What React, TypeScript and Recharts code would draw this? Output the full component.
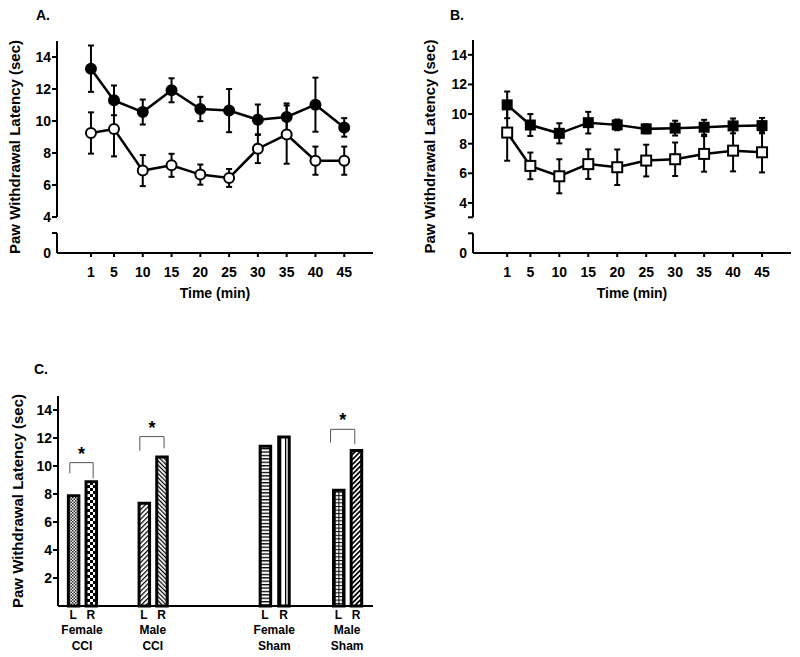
import {
  Bar,
  BarChart,
  Cell,
  ErrorBar,
  Line,
  LineChart,
  ReferenceLine,
  XAxis,
  YAxis,
} from "recharts";

const FONT = "'Liberation Sans', Arial, sans-serif";
const INK = "#000";

// panels A and B: time course
const TIMES = [1, 5, 10, 15, 20, 25, 30, 35, 40, 45];
const A_FILLED = [13.27, 11.29, 10.56, 11.92, 10.75, 10.65, 10.08, 10.25, 11.02, 9.6];
const A_FILLED_ERR = [1.45, 0.93, 0.78, 0.75, 0.76, 1.35, 0.95, 0.85, 1.69, 0.58];
const A_OPEN = [9.25, 9.5, 6.9, 7.23, 6.65, 6.44, 8.27, 9.15, 7.52, 7.52];
const A_OPEN_ERR = [1.29, 1.71, 0.97, 0.72, 0.63, 0.56, 0.9, 1.82, 0.88, 0.88];
const B_FILLED = [10.62, 9.26, 8.7, 9.42, 9.27, 9.0, 9.05, 9.11, 9.2, 9.22];
const B_FILLED_ERR = [0.9, 0.74, 0.68, 0.73, 0.36, 0.3, 0.5, 0.5, 0.5, 0.52];
const B_OPEN = [8.75, 6.5, 5.8, 6.62, 6.41, 6.86, 6.95, 7.31, 7.53, 7.42];
const B_OPEN_ERR = [1.9, 0.9, 1.15, 1.0, 1.2, 1.07, 1.13, 1.2, 1.4, 1.36];
const TIME_TICKS = [1, 5, 10, 15, 20, 25, 30, 35, 40, 45];
const Y_TICKS = [4, 6, 8, 10, 12, 14];

// panel C: left / right paw
const BAR_POS = [0, 1, 4, 5, 10.85, 11.9, 15, 16];
const BAR_SIDES = ["L", "R", "L", "R", "L", "R", "L", "R"];
const BAR_VALUES = [7.88, 8.88, 7.34, 10.65, 11.41, 12.07, 8.27, 11.1];
const BAR_PATTERNS = ["fineCheck", "check", "diagA", "diagB", "horiz", "vert", "grid", "diagC"];
const GROUP_POS = [0.5, 4.5, 11.375, 15.5];
const GROUP_LINES = [
  ["Female", "CCI"],
  ["Male", "CCI"],
  ["Female", "Sham"],
  ["Male", "Sham"],
];
// significance brackets: [x1, x2, top, left leg end, right leg end]
const BRACKETS = [
  [-0.19, 1.13, 10.24, 9.48, 9.12],
  [3.77, 5.14, 12.1, 11.1, 11.26],
  [14.56, 15.93, 12.62, 11.67, 11.57],
];

const timeA = TIMES.map((t, i) => ({
  t,
  filled: A_FILLED[i],
  filledErr: A_FILLED_ERR[i],
  open: A_OPEN[i],
  openErr: A_OPEN_ERR[i],
}));
const timeB = TIMES.map((t, i) => ({
  t,
  filled: B_FILLED[i],
  filledErr: B_FILLED_ERR[i],
  open: B_OPEN[i],
  openErr: B_OPEN_ERR[i],
}));
const bars = BAR_POS.map((x, i) => ({ x, side: BAR_SIDES[i], v: BAR_VALUES[i] }));

const X_DOMAIN = [-4.9, 50];

function yLabel(cx: number) {
  return (props: any) => {
    const vb = props.viewBox || {};
    const cy = vb.y + vb.height / 2;
    return (
      <text
        x={cx}
        y={cy}
        transform={`rotate(-90 ${cx} ${cy})`}
        textAnchor="middle"
        dominantBaseline="central"
        fontSize={15}
        fontWeight="bold"
        fontFamily={FONT}
        fill={INK}
      >
        Paw Withdrawal Latency (sec)
      </text>
    );
  };
}

// y tick with optional zero label at the bottom of a broken axis
function brokenTick(zeroVal: number) {
  return (props: any) => {
    const { x, y, payload } = props;
    const v = payload.value;
    const ax = x + 6;
    const isZero = v === zeroVal;
    const labelled = isZero || Y_TICKS.includes(v);
    return (
      <g>
        {!isZero && <line x1={ax - 5} x2={ax} y1={y} y2={y} stroke={INK} strokeWidth={2} />}
        {labelled && (
          <text
            x={ax - 6}
            y={y}
            dy="0.36em"
            textAnchor="end"
            fontSize={14}
            fontWeight="bold"
            fontFamily={FONT}
            fill={INK}
          >
            {isZero ? "0" : v}
          </text>
        )}
      </g>
    );
  };
}

const circleDot = (fill: string) => (p: any) => (
  <circle key={p.index} cx={p.cx} cy={p.cy} r={5} fill={fill} stroke={INK} strokeWidth={2} />
);
const squareDot = (fill: string, s: number) => (p: any) => (
  <rect
    key={p.index}
    x={p.cx - s / 2}
    y={p.cy - s / 2}
    width={s}
    height={s}
    fill={fill}
    stroke={INK}
    strokeWidth={2}
  />
);

type TimePanelProps = {
  data: typeof timeA;
  yDomain: number[];
  zeroVal: number;
  breakTicks: number[];
  upperEnd: number;
  lowerTop: number;
  yWidth: number;
  labelX: number;
  marginTop: number;
  marginRight: number;
  square?: boolean;
};

function TimePanel(p: TimePanelProps) {
  const x0 = X_DOMAIN[0];
  return (
    <LineChart
      width={400}
      height={310}
      data={p.data}
      margin={{ top: p.marginTop, right: p.marginRight, left: 0, bottom: 0 }}
    >
      <XAxis
        dataKey="t"
        type="number"
        domain={X_DOMAIN}
        ticks={TIME_TICKS}
        interval={0}
        height={57}
        axisLine={{ stroke: INK, strokeWidth: 2 }}
        tickLine={{ stroke: INK, strokeWidth: 2 }}
        tickSize={4}
        tickMargin={10}
        tick={{ fontSize: 14, fontWeight: "bold", fill: INK, fontFamily: FONT }}
        label={{
          value: "Time (min)",
          position: "insideBottom",
          offset: 12,
          fontSize: 14,
          fontWeight: "bold",
          fill: INK,
          fontFamily: FONT,
        }}
      />
      <YAxis
        type="number"
        domain={p.yDomain}
        allowDataOverflow
        ticks={[p.zeroVal, ...p.breakTicks, ...Y_TICKS]}
        interval={0}
        width={p.yWidth}
        axisLine={false}
        tickLine={false}
        tickSize={5}
        tickMargin={1}
        tick={brokenTick(p.zeroVal)}
        label={{ content: yLabel(p.labelX) }}
      />
      <ReferenceLine
        segment={[
          { x: x0, y: p.yDomain[1] },
          { x: x0, y: p.upperEnd },
        ]}
        stroke={INK}
        strokeWidth={2}
        ifOverflow="visible"
      />
      <ReferenceLine
        segment={[
          { x: x0, y: p.lowerTop },
          { x: x0, y: p.zeroVal },
        ]}
        stroke={INK}
        strokeWidth={2}
        ifOverflow="visible"
      />
      <Line
        dataKey="filled"
        stroke={INK}
        strokeWidth={2.5}
        isAnimationActive={false}
        dot={p.square ? squareDot(INK, 9) : circleDot(INK)}
      >
        <ErrorBar dataKey="filledErr" width={3} stroke={INK} strokeWidth={2} />
      </Line>
      <Line
        dataKey="open"
        stroke={INK}
        strokeWidth={2.5}
        isAnimationActive={false}
        dot={p.square ? squareDot("#fff", 10) : circleDot("#fff")}
      >
        <ErrorBar dataKey="openErr" width={3} stroke={INK} strokeWidth={2} />
      </Line>
    </LineChart>
  );
}

function barTick(props: any) {
  const { x, y, payload } = props;
  const v = payload.value;
  const bi = BAR_POS.indexOf(v);
  const gi = GROUP_POS.indexOf(v);
  const common = { fontWeight: "bold", fontFamily: FONT, fill: INK, textAnchor: "middle" as const };
  return (
    <g>
      {bi >= 0 && (
        <text x={x} y={y + 9} dy="0.36em" fontSize={12} {...common}>
          {BAR_SIDES[bi]}
        </text>
      )}
      {gi >= 0 && (
        <>
          <text x={x} y={y + 24} dy="0.36em" fontSize={12} {...common}>
            {GROUP_LINES[gi][0]}
          </text>
          <text x={x} y={y + 40} dy="0.36em" fontSize={12} {...common}>
            {GROUP_LINES[gi][1]}
          </text>
        </>
      )}
    </g>
  );
}

function BarPanel() {
  return (
    <BarChart width={400} height={277} data={bars} margin={{ top: 16, right: 27, left: 0, bottom: 0 }}>
      <defs>
        <pattern id="fineCheck" width="3" height="3" patternUnits="userSpaceOnUse">
          <rect width="3" height="3" fill="#fff" />
          <rect width="1.5" height="1.5" fill="#222" />
          <rect x="1.5" y="1.5" width="1.5" height="1.5" fill="#222" />
        </pattern>
        <pattern id="check" width="6" height="6" patternUnits="userSpaceOnUse">
          <rect width="6" height="6" fill="#fff" />
          <rect width="3" height="3" fill="#000" />
          <rect x="3" y="3" width="3" height="3" fill="#000" />
        </pattern>
        <pattern id="diagA" width="3.4" height="10" patternUnits="userSpaceOnUse" patternTransform="rotate(45)">
          <rect width="3.4" height="10" fill="#fff" />
          <rect width="1.2" height="10" fill="#000" />
        </pattern>
        <pattern id="diagB" width="3" height="10" patternUnits="userSpaceOnUse" patternTransform="rotate(-45)">
          <rect width="3" height="10" fill="#fff" />
          <rect width="1.2" height="10" fill="#000" />
        </pattern>
        <pattern id="horiz" width="10" height="3.4" patternUnits="userSpaceOnUse">
          <rect width="10" height="3.4" fill="#fff" />
          <rect width="10" height="1.3" fill="#000" />
        </pattern>
        <pattern id="vert" width="5" height="10" patternUnits="userSpaceOnUse">
          <rect width="5" height="10" fill="#fff" />
          <rect width="1.3" height="10" fill="#000" />
        </pattern>
        <pattern id="grid" width="3.6" height="3.6" patternUnits="userSpaceOnUse">
          <rect width="3.6" height="3.6" fill="#fff" />
          <rect width="3.6" height="1" fill="#000" />
          <rect width="1" height="3.6" fill="#000" />
        </pattern>
        <pattern id="diagC" width="3.5" height="10" patternUnits="userSpaceOnUse" patternTransform="rotate(45)">
          <rect width="3.5" height="10" fill="#fff" />
          <rect width="1.7" height="10" fill="#000" />
        </pattern>
      </defs>
      <XAxis
        dataKey="x"
        type="number"
        domain={[-0.86, 16.96]}
        ticks={[...BAR_POS, ...GROUP_POS]}
        interval={0}
        height={51}
        axisLine={{ stroke: INK, strokeWidth: 2 }}
        tickLine={false}
        tickSize={0}
        tickMargin={0}
        tick={barTick}
      />
      <YAxis
        type="number"
        domain={[0, 15]}
        ticks={[2, 4, 6, 8, 10, 12, 14]}
        interval={0}
        width={58}
        axisLine={{ stroke: INK, strokeWidth: 2 }}
        tickLine={{ stroke: INK, strokeWidth: 2 }}
        tickSize={5}
        tickMargin={1}
        tick={{ fontSize: 14, fontWeight: "bold", fill: INK, fontFamily: FONT }}
        label={{ content: yLabel(17) }}
      />
      <Bar dataKey="v" barSize={10.5} stroke={INK} strokeWidth={3} isAnimationActive={false}>
        {bars.map((b, i) => (
          <Cell key={b.x} fill={`url(#${BAR_PATTERNS[i]})`} />
        ))}
      </Bar>
      {BRACKETS.map(([x1, x2, top, l, r]) => (
        <g key={x1}>
          <ReferenceLine
            segment={[
              { x: x1, y: top },
              { x: x2, y: top },
            ]}
            stroke="#555"
            strokeWidth={1}
            ifOverflow="visible"
            label={{
              value: "*",
              position: "top",
              offset: 3,
              fontSize: 18,
              fontWeight: "bold",
              fill: INK,
              fontFamily: FONT,
            }}
          />
          <ReferenceLine
            segment={[
              { x: x1, y: top },
              { x: x1, y: l },
            ]}
            stroke="#555"
            strokeWidth={1}
            ifOverflow="visible"
          />
          <ReferenceLine
            segment={[
              { x: x2, y: top },
              { x: x2, y: r },
            ]}
            stroke="#555"
            strokeWidth={1}
            ifOverflow="visible"
          />
        </g>
      ))}
    </BarChart>
  );
}

const panelLabel = (text: string, left: number, top: number) => (
  <div
    style={{
      position: "absolute",
      left,
      top,
      fontSize: 14,
      lineHeight: "14px",
      fontWeight: "bold",
      fontFamily: FONT,
    }}
  >
    {text}
  </div>
);

export default function App() {
  return (
    <div
      style={{
        position: "absolute",
        left: 0,
        top: 0,
        width: 800,
        height: 657,
        background: "#fff",
        fontFamily: FONT,
      }}
    >
      {panelLabel("A.", 36, 8)}
      {panelLabel("B.", 450, 8)}
      {panelLabel("C.", 34, 362)}
      <div style={{ position: "absolute", left: 0, top: 0 }}>
        <TimePanel
          data={timeA}
          yDomain={[1.75, 15]}
          zeroVal={1.75}
          breakTicks={[3]}
          upperEnd={4}
          lowerTop={3}
          yWidth={57}
          labelX={14}
          marginTop={41}
          marginRight={27}
        />
      </div>
      <div style={{ position: "absolute", left: 400, top: 0 }}>
        <TimePanel
          data={timeB}
          yDomain={[0.62, 15]}
          zeroVal={0.62}
          breakTicks={[1.95, 3.03]}
          upperEnd={3.03}
          lowerTop={1.95}
          yWidth={73}
          labelX={29}
          marginTop={40}
          marginRight={9}
          square
        />
      </div>
      <div style={{ position: "absolute", left: 0, top: 380 }}>
        <BarPanel />
      </div>
    </div>
  );
}
